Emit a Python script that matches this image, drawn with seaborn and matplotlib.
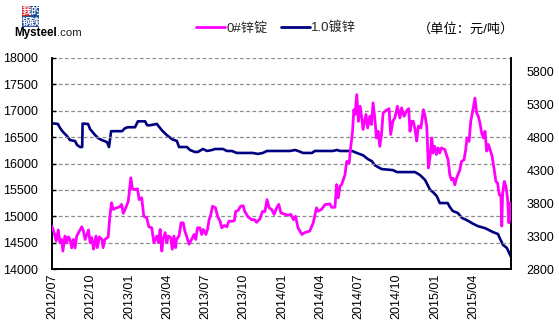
import numpy as np
import pandas as pd
import matplotlib
matplotlib.use("Agg")
import matplotlib.pyplot as plt
import matplotlib.dates as mdates
from matplotlib.patches import Rectangle
from matplotlib.lines import Line2D
import seaborn as sns

# ---------------- data ----------------
zinc_dates = [
    "2012-07-01", "2012-07-06", "2012-07-11", "2012-07-16", "2012-07-20", "2012-07-24", "2012-07-27",
    "2012-08-01", "2012-08-05", "2012-08-09", "2012-08-13", "2012-08-17", "2012-08-21", "2012-08-25",
    "2012-08-29", "2012-09-10", "2012-09-14", "2012-09-18", "2012-09-26", "2012-09-30", "2012-10-04",
    "2012-10-08", "2012-10-14", "2012-10-17", "2012-10-22", "2012-10-28", "2012-10-31", "2012-11-04",
    "2012-11-12", "2012-11-16", "2012-11-20", "2012-11-24", "2012-12-02", "2012-12-10", "2012-12-14",
    "2012-12-18", "2012-12-24", "2012-12-30", "2013-01-05", "2013-01-09", "2013-01-17", "2013-01-21",
    "2013-01-25", "2013-01-31", "2013-02-05", "2013-02-12", "2013-02-17", "2013-02-24", "2013-03-01",
    "2013-03-08", "2013-03-12", "2013-03-16", "2013-03-20", "2013-03-23", "2013-03-28", "2013-04-01",
    "2013-04-04", "2013-04-10", "2013-04-14", "2013-04-18", "2013-04-22", "2013-04-24", "2013-04-30",
    "2013-05-05", "2013-05-10", "2013-05-14", "2013-05-18", "2013-05-24", "2013-05-30", "2013-06-05",
    "2013-06-09", "2013-06-13", "2013-06-19", "2013-06-23", "2013-06-27", "2013-07-03", "2013-07-07",
    "2013-07-11", "2013-07-15", "2013-07-19", "2013-07-26", "2013-07-31", "2013-08-06", "2013-08-10",
    "2013-08-16", "2013-08-22", "2013-08-27", "2013-09-04", "2013-09-09", "2013-09-12", "2013-09-18",
    "2013-09-24", "2013-09-30", "2013-10-04", "2013-10-12", "2013-10-20", "2013-10-27", "2013-11-01",
    "2013-11-09", "2013-11-15", "2013-11-21", "2013-11-26", "2013-12-01", "2013-12-07", "2013-12-13",
    "2013-12-19", "2013-12-24", "2013-12-29", "2014-01-08", "2014-01-16", "2014-01-22", "2014-01-28",
    "2014-02-02", "2014-02-08", "2014-02-17", "2014-02-24", "2014-02-28", "2014-03-08", "2014-03-16",
    "2014-03-24", "2014-03-28", "2014-04-05", "2014-04-13", "2014-04-25", "2014-04-29", "2014-05-07",
    "2014-05-11", "2014-05-15", "2014-05-19", "2014-05-23", "2014-05-27", "2014-05-31", "2014-06-04",
    "2014-06-10", "2014-06-13", "2014-06-18", "2014-06-21", "2014-06-24", "2014-06-28", "2014-07-02",
    "2014-07-06", "2014-07-10", "2014-07-13", "2014-07-20", "2014-07-24", "2014-07-29", "2014-08-02",
    "2014-08-06", "2014-08-10", "2014-08-14", "2014-08-18", "2014-08-22", "2014-08-26", "2014-08-30",
    "2014-09-06", "2014-09-13", "2014-09-17", "2014-09-22", "2014-09-27", "2014-10-03", "2014-10-09",
    "2014-10-13", "2014-10-19", "2014-10-25", "2014-10-30", "2014-11-02", "2014-11-06", "2014-11-10",
    "2014-11-14", "2014-11-18", "2014-11-22", "2014-11-28", "2014-12-04", "2014-12-08", "2014-12-12",
    "2014-12-16", "2014-12-20", "2014-12-24", "2014-12-27", "2014-12-31", "2015-01-04", "2015-01-08",
    "2015-01-12", "2015-01-16", "2015-01-24", "2015-01-28", "2015-02-01", "2015-02-05", "2015-02-09",
    "2015-02-13", "2015-02-17", "2015-02-21", "2015-03-01", "2015-03-05", "2015-03-11", "2015-03-15",
    "2015-03-18", "2015-03-23", "2015-03-27", "2015-04-02", "2015-04-06", "2015-04-10", "2015-04-14",
    "2015-04-18", "2015-04-22", "2015-04-26", "2015-04-30", "2015-05-04", "2015-05-08", "2015-05-12",
    "2015-05-17", "2015-05-22", "2015-05-26", "2015-05-30", "2015-06-03", "2015-06-07", "2015-06-09",
    "2015-06-11", "2015-06-15", "2015-06-19", "2015-06-23", "2015-06-26", "2015-06-29", "2015-07-01",
]
zinc_prices = [
    14810, 14690, 14530, 14740, 14500, 14560, 14340,
    14625, 14500, 14610, 14560, 14400, 14560, 14400,
    14625, 14800, 14720, 14560, 14740, 14500, 14595,
    14375, 14625, 14405, 14610, 14560, 14405, 14560,
    14605, 15000, 15255, 15130, 15160, 15180, 15225,
    15055, 15160, 15285, 15730, 15510, 15510, 15520,
    15315, 15350, 15000, 14970, 14800, 14780, 14500,
    14625, 14500, 14750, 14340, 14560, 14690, 14500,
    14625, 14595, 14375, 14625, 14405, 14560, 14625,
    14875, 14875, 14720, 14625, 14470, 14560, 14655,
    14560, 14780, 14780, 14655, 14750, 14655, 14750,
    14940, 15035, 15190, 15160, 15000, 14905, 14780,
    14825, 14800, 14905, 14905, 14920, 15090, 15110,
    15190, 15200, 15090, 14985, 14935, 14935, 14885,
    14950, 15090, 15090, 15315, 15160, 15130, 15035,
    15160, 15225, 15065, 15035, 15020, 15035, 14935,
    15000, 14780, 14655, 14690, 14700, 14720, 14870,
    15160, 15095, 15130, 15220, 15235, 15170, 15170,
    15600, 15350, 15570, 15600, 15695, 15790, 16040,
    16010, 16265, 16610, 17020, 16930, 17305, 16800,
    17085, 16865, 16645, 16930, 16675, 16895, 16740,
    17150, 16865, 16485, 16610, 16325, 16550, 16960,
    17005, 17040, 16550, 16800, 16865, 17085, 16865,
    17055, 16895, 17000, 17040, 16610, 16800, 16800,
    16645, 16425, 16710, 16675, 17020, 16895, 16710,
    15915, 16135, 16485, 16200, 16325, 16170, 16295,
    16200, 16295, 16265, 16170, 16070, 15785, 15690,
    15720, 15595, 15720, 15880, 16040, 16070, 16265,
    16485, 16420, 16800, 17055, 17240, 16960, 16895,
    16765, 16575, 16485, 16610, 16235, 16360, 16265,
    16135, 15880, 15660, 15630, 15410, 15380, 14815,
    15440, 15660, 15565, 15315, 14875, 15255, 14950,
]

galv_dates = [
    "2012-07-01", "2012-07-15", "2012-07-20", "2012-07-27", "2012-08-06", "2012-08-13", "2012-08-25",
    "2012-08-30", "2012-09-06", "2012-09-11", "2012-09-12", "2012-09-25", "2012-09-30", "2012-10-12",
    "2012-10-19", "2012-10-28", "2012-11-09", "2012-11-14", "2012-11-19", "2012-12-15", "2012-12-22",
    "2012-12-29", "2013-01-15", "2013-01-22", "2013-02-08", "2013-02-13", "2013-02-20", "2013-03-08",
    "2013-03-20", "2013-04-01", "2013-04-13", "2013-04-25", "2013-04-30", "2013-05-19", "2013-05-26",
    "2013-06-07", "2013-06-14", "2013-06-26", "2013-07-06", "2013-07-18", "2013-07-25", "2013-08-13",
    "2013-08-22", "2013-09-03", "2013-09-15", "2013-10-23", "2013-11-04", "2013-11-16", "2013-11-26",
    "2014-01-20", "2014-02-01", "2014-02-08", "2014-02-20", "2014-03-13", "2014-03-20", "2014-05-02",
    "2014-05-12", "2014-05-19", "2014-06-17", "2014-06-28", "2014-07-13", "2014-07-25", "2014-08-03",
    "2014-08-10", "2014-08-22", "2014-08-27", "2014-09-22", "2014-10-02", "2014-11-14", "2014-11-26",
    "2014-12-08", "2014-12-20", "2014-12-27", "2015-01-05", "2015-01-12", "2015-01-31", "2015-02-05",
    "2015-02-12", "2015-02-24", "2015-03-06", "2015-03-18", "2015-03-30", "2015-04-13", "2015-04-30",
    "2015-05-19", "2015-05-31", "2015-06-04", "2015-06-12", "2015-06-21", "2015-07-01",
]
galv_prices = [
    5010, 5000, 4940, 4880, 4815, 4755, 4740,
    4680, 4650, 4650, 5005, 5000, 4920, 4830,
    4785, 4755, 4725, 4650, 4890, 4890, 4935,
    4950, 4950, 5040, 5040, 4980, 4980, 5000,
    4905, 4830, 4770, 4740, 4650, 4650, 4605,
    4575, 4575, 4620, 4590, 4605, 4620, 4620,
    4590, 4590, 4560, 4560, 4545, 4560, 4590,
    4590, 4605, 4590, 4560, 4560, 4590, 4590,
    4605, 4590, 4590, 4560, 4525, 4465, 4435,
    4375, 4330, 4315, 4300, 4270, 4270, 4225,
    4150, 4000, 3965, 3905, 3800, 3800, 3740,
    3680, 3650, 3575, 3540, 3495, 3450, 3420,
    3360, 3330, 3270, 3165, 3120, 2985,
]

zinc_label = "0#锌锭"
galv_label = "1.0镀锌"
unit_text = "（单位：元/吨）"
left_ticks = list(range(14000, 18001, 500))
right_ticks = list(range(2800, 5801, 500))
x_ticks = ["2012-07-01", "2012-10-01", "2013-01-01", "2013-04-01", "2013-07-01", "2013-10-01",
           "2014-01-01", "2014-04-01", "2014-07-01", "2014-10-01", "2015-01-01", "2015-04-01"]

# ---------------- style ----------------
sns.set_style("white")
plt.rcParams["font.family"] = ["Liberation Sans", "Noto Sans CJK SC", "DejaVu Sans"]

W, H = 559, 333
fig = plt.figure(figsize=(W / 100, H / 100), dpi=100)
L, R, T, B = 52, 511, 58, 269
ax = fig.add_axes([L / W, 1 - B / H, (R - L) / W, (B - T) / H])
ax2 = ax.twinx()

zinc_df = pd.DataFrame({"date": pd.to_datetime(zinc_dates), "price": zinc_prices})
galv_df = pd.DataFrame({"date": pd.to_datetime(galv_dates), "price": galv_prices})

PINK = "#FF00FF"
NAVY = "#000080"
sns.lineplot(data=zinc_df, x="date", y="price", ax=ax, color=PINK, lw=2.0, zorder=3)
sns.lineplot(data=galv_df, x="date", y="price", ax=ax2, color=NAVY, lw=1.9, zorder=3)

ax.set_zorder(ax2.get_zorder() + 1)
ax.patch.set_visible(False)

ax.set_xlim(pd.Timestamp("2012-07-01"), pd.Timestamp("2015-07-01"))
ax.set_ylim(14000, 18000)
ax2.set_ylim(2800, 6000)
ax.set_yticks(left_ticks)
ax2.set_yticks(right_ticks)
ax.set_xticks(pd.to_datetime(x_ticks))
ax.xaxis.set_major_formatter(mdates.DateFormatter("%Y/%m"))

ax.set_xlabel("")
ax.set_ylabel("")
ax2.set_ylabel("")

ax.yaxis.grid(True, color="#8c8c8c", linestyle=(0, (3, 2)), linewidth=0.9)
ax.xaxis.grid(False)
ax2.grid(False)

for a in (ax, ax2):
    a.spines["top"].set_visible(False)
    for s in ("left", "bottom", "right"):
        a.spines[s].set_color("black")
        a.spines[s].set_linewidth(1.2)

ax.tick_params(axis="x", direction="in", length=4, width=1, labelsize=9, rotation=90, pad=3, colors="black")
ax.tick_params(axis="y", direction="in", length=3, width=1, labelsize=9, pad=10, colors="black")
ax2.tick_params(axis="y", direction="in", length=0, labelsize=9, pad=11, colors="black")
for lbl in ax.get_xticklabels():
    lbl.set_va("top")

# legend
handles = [Line2D([0], [0], color=PINK, lw=2), Line2D([0], [0], color=NAVY, lw=2)]
fig.legend(handles, [zinc_label, galv_label], loc="center left",
           bbox_to_anchor=(196 / W, 1 - 28 / H), ncol=2, frameon=False,
           fontsize=9.5, handlelength=2.2, handletextpad=0.1, columnspacing=1.0,
           borderaxespad=0, borderpad=0)
fig.text(418 / W, 1 - 29 / H, unit_text, fontsize=9.5, va="center", ha="left", color="black")

# logo
def box(x0, y0, x1, y1, fc):
    fig.add_artist(Rectangle((x0 / W, 1 - y1 / H), (x1 - x0) / W, (y1 - y0) / H,
                             transform=fig.transFigure, facecolor=fc, edgecolor="none"))

logo = [("我", 22, 6, 30.5, 16.5, "#D8232A"), ("的", 30.5, 6, 39, 16.5, "#1F4E9A"),
        ("钢", 22, 16.5, 30.5, 27, "#1F4E9A"), ("铁", 30.5, 16.5, 39, 27, "#1F4E9A")]
for ch, x0, y0, x1, y1, fc in logo:
    box(x0, y0, x1, y1, fc)
    fig.text((x0 + x1) / 2 / W, 1 - (y0 + y1) / 2 / H, ch, fontsize=7, color="white",
             ha="center", va="center", fontweight="bold")
fig.text(14 / W, 1 - 36 / H, "Mysteel", fontsize=8.4, fontweight="bold", color="black",
         ha="left", va="baseline")
fig.text(57 / W, 1 - 36 / H, ".com", fontsize=8.2, color="#222222", ha="left", va="baseline")

fig.savefig("out.png", dpi=100)
